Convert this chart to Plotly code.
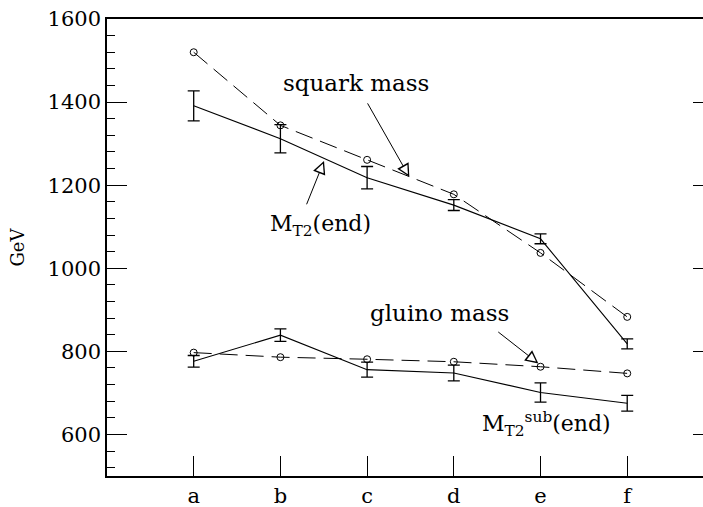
import math
import plotly.graph_objects as go

labels = ["a", "b", "c", "d", "e", "f"]
xpos = [1, 2, 3, 4, 5, 6]

squark_mass = [1520, 1344, 1261, 1178, 1037, 883]
mt2_end = [1391, 1312, 1218, 1152, 1071, 818]
mt2_end_err = [36, 34, 27, 13, 12, 12]

gluino_mass = [797, 786, 781, 775, 763, 747]
mt2sub_end = [776, 839, 756, 748, 701, 675]
mt2sub_end_err = [14, 15, 18, 19, 23, 19]

yticks = [600, 800, 1000, 1200, 1400, 1600]

FONT = "DejaVu Serif"
BLACK = "black"
DASH = "18px,8px"

fig = go.Figure()

fig.add_trace(go.Scatter(
    x=xpos, y=squark_mass, mode="lines+markers",
    line=dict(color=BLACK, width=1, dash=DASH),
    marker=dict(symbol="circle-open", size=7, color=BLACK, line=dict(width=1)),
    showlegend=False))
fig.add_trace(go.Scatter(
    x=xpos, y=mt2_end, mode="lines",
    line=dict(color=BLACK, width=1.1),
    error_y=dict(type="data", array=mt2_end_err, color=BLACK, thickness=1.3, width=6),
    showlegend=False))
fig.add_trace(go.Scatter(
    x=xpos, y=gluino_mass, mode="lines+markers",
    line=dict(color=BLACK, width=1, dash=DASH),
    marker=dict(symbol="circle-open", size=7, color=BLACK, line=dict(width=1)),
    showlegend=False))
fig.add_trace(go.Scatter(
    x=xpos, y=mt2sub_end, mode="lines",
    line=dict(color=BLACK, width=1.1),
    error_y=dict(type="data", array=mt2sub_end_err, color=BLACK, thickness=1.3, width=6),
    showlegend=False))
# invisible trace to instantiate the right-hand tick axis
fig.add_trace(go.Scatter(x=[1], y=[1000], yaxis="y2", mode="markers",
                         marker=dict(opacity=0), showlegend=False, hoverinfo="skip"))

def text_ann(x, y, t, size=23):
    return dict(x=x, y=y, xref="x", yref="y", text=t, showarrow=False,
                font=dict(family=FONT, size=size, color=BLACK))

def arrow_anns(x, y, ax, ay):
    """Black arrow (tail offset ax, ay in px) plus a white inner head to make it hollow."""
    L = math.hypot(ax, ay)
    ux, uy = ax / L, ay / L
    black = dict(x=x, y=y, xref="x", yref="y", ax=ax, ay=ay,
                 text="", showarrow=True, arrowhead=2, arrowsize=2.6, arrowwidth=1,
                 arrowcolor=BLACK)
    white = dict(x=x, y=y, xref="x", yref="y", ax=ux * 12.5, ay=uy * 12.5,
                 text="", showarrow=True, arrowhead=2, arrowsize=1.13, arrowwidth=1.5,
                 arrowcolor="white", standoff=3)
    return [black, white]

annotations = [
    text_ann(2.87, 1446, "squark mass"),
    *arrow_anns(3.487, 1220, -42.6, -75),
    text_ann(2.457, 1104, "M<sub>T2</sub>(end)", 22),
    *arrow_anns(2.503, 1258, -18, 44.7),
    text_ann(3.83, 893, "gluino mass"),
    *arrow_anns(4.975, 771, -41.6, -32.6),
    text_ann(5.07, 625, "M<sub>T2</sub><sup>sub</sup>(end)", 22),
]

fig.update_layout(
    width=703, height=507,
    margin=dict(l=107, r=0, t=19, b=31),
    paper_bgcolor="white", plot_bgcolor="white",
    font=dict(family=FONT, color=BLACK),
    annotations=annotations,
    xaxis=dict(range=[0, 6.874], tickvals=xpos, ticktext=labels,
               ticks="inside", ticklen=20, tickwidth=1.2, tickcolor=BLACK,
               showline=True, linecolor=BLACK, linewidth=1.5, mirror=True,
               showgrid=False, zeroline=False,
               tickfont=dict(family=FONT, size=21, color=BLACK)),
    yaxis=dict(range=[500, 1600], tickvals=yticks,
               ticks="inside", ticklen=20, tickwidth=1.2, tickcolor=BLACK,
               showline=True, linecolor=BLACK, linewidth=1.5,
               showgrid=False, zeroline=False,
               minor=dict(dtick=40, tick0=0, ticks="inside", ticklen=8,
                          tickwidth=1.2, tickcolor=BLACK, showgrid=False),
               tickfont=dict(family=FONT, size=21, color=BLACK),
               title=dict(text="GeV", font=dict(family=FONT, size=18, color=BLACK),
                          standoff=18)),
    yaxis2=dict(range=[500, 1600], overlaying="y", side="right", anchor="x",
                tickvals=yticks, ticks="inside", ticklen=10, tickwidth=1.2,
                tickcolor=BLACK, showticklabels=False, showline=False,
                showgrid=False, zeroline=False),
)

fig.write_html("out.html")
